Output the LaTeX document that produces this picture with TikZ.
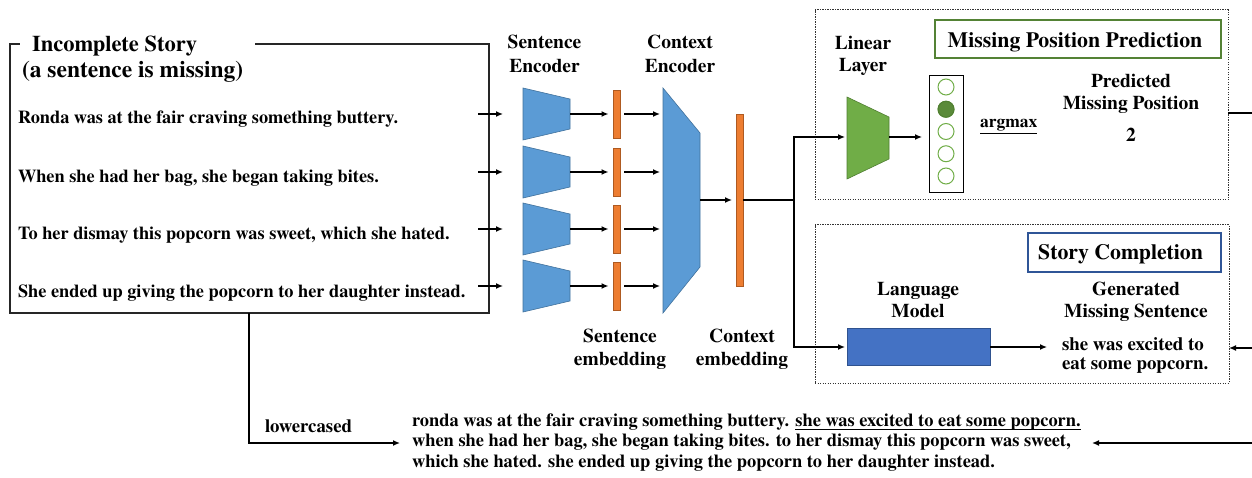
\documentclass[tikz,border=0pt]{standalone}
\usepackage{fontspec}
\setmainfont{texgyretermes}[Extension=.otf, UprightFont=*-regular, BoldFont=*-bold, ItalicFont=*-italic, BoldItalicFont=*-bolditalic]
\usetikzlibrary{arrows.meta,calc}

\definecolor{encblue}{HTML}{5B9BD5}
\definecolor{encblueD}{HTML}{41719C}
\definecolor{embor}{HTML}{ED7D31}
\definecolor{emborD}{HTML}{AE5A21}
\definecolor{lingreen}{HTML}{70AD47}
\definecolor{lingreenD}{HTML}{507E32}
\definecolor{lmblue}{HTML}{4472C4}
\definecolor{lmblueD}{HTML}{2F528F}
\definecolor{tagblue}{HTML}{2F5597}
\definecolor{taggreen}{HTML}{548235}

% underline drawn just below the baseline
\newcommand\undl[1]{\setbox0\hbox{#1}\rlap{\rule[-3.5pt]{\wd0}{1pt}}\box0}

\begin{document}
\begin{tikzpicture}[x=1pt,y=-1pt,
  every node/.style={inner sep=0pt, outer sep=0pt},
  lbl/.style={font=\bfseries\fontsize{19.5}{22}\selectfont, anchor=base},
  ttl/.style={font=\bfseries\fontsize{22.5}{24}\selectfont, anchor=base west},
  tag/.style={font=\bfseries\fontsize{21.8}{24}\selectfont, anchor=base},
  sent/.style={font=\bfseries\fontsize{18.3}{20}\selectfont, anchor=base west},
  small/.style={font=\bfseries\fontsize{17.5}{20}\selectfont, anchor=base west},
  gen/.style={font=\bfseries\fontsize{18.9}{20}\selectfont, anchor=base west},
  low/.style={font=\bfseries\fontsize{18.8}{20}\selectfont, anchor=base west},
  lowtext/.style={font=\bfseries\fontsize{18.4}{20}\selectfont, anchor=base west},
  arr/.style={line width=1.3pt, -{Latex[length=7pt,width=6pt]}},
  link/.style={line width=1.3pt},
  bar/.style={fill=embor, draw=emborD, line width=0.6pt, minimum width=7pt, minimum height=48pt},
  encshape/.style={fill=encblue, draw=encblueD, line width=0.6pt},
  panel/.style={draw=black!80, line width=1pt, dash pattern=on 1.2pt off 1.3pt},
  unit/.style={circle, draw=lingreen, line width=1pt, minimum size=16pt, fill=white},
]
\useasboundingbox (0,0) rectangle (1252,478);

% ---------- input story ----------
\node[draw=black!85, line width=1.2pt, minimum width=479pt, minimum height=269pt, anchor=north west] (story) at (10,44) {};
\node[fill=white, minimum width=235pt, minimum height=14pt, anchor=west] (ttlbg) at (20,44) {};
\node[ttl] (ttl1) at (32,52) {Incomplete Story};
\node[ttl, font=\bfseries\fontsize{23.5}{24}\selectfont] (ttl2) at (22,78) {(a sentence is missing)};

\node[sent] (s1) at (18,124) {Ronda was at the fair craving something buttery.};
\node[sent] (s2) at (18,183) {When she had her bag, she began taking bites.};
\node[sent] (s3) at (18,240) {To her dismay this popcorn was sweet, which she hated.};
\node[sent] (s4) at (18,297) {She ended up giving the popcorn to her daughter instead.};

% ---------- context encoder ----------
\draw[encshape] (663,88) -- (700,133) -- (700,267) -- (663,313) -- cycle;
\coordinate (ctxR) at (700,200);

% ---------- sentence encoders and sentence embeddings ----------
\foreach \i/\y in {1/114,2/172,3/229,4/286} {
  \coordinate (a\i) at (478,\y);
  \coordinate (b\i) at (503,\y);
  \draw[encshape] (523,{\y-26}) -- (570,{\y-15}) -- (570,{\y+15}) -- (523,{\y+26}) -- cycle;
  \coordinate (encR\i) at (570,\y);
  \node[bar] (se\i) at (616.5,\y) {};
  \coordinate (ctxL\i) at (663,\y);
  \draw[arr] (a\i) -- (b\i);
  \draw[arr, shorten >=4.5pt] (encR\i) -- (se\i.west);
  \draw[arr, shorten <=4pt, shorten >=3pt] (se\i.east) -- (ctxL\i);
}

\node[lbl] (senc1) at (544.5,49) {Sentence};
\node[lbl] (senc2) at (544.5,73) {Encoder};
\node[lbl] (cenc1) at (680,49) {Context};
\node[lbl] (cenc2) at (680,73) {Encoder};
\node[lbl] (semb1) at (620,342) {Sentence};
\node[lbl] (semb2) at (620,365) {embedding};
\node[lbl] (cemb1) at (742,342) {Context};
\node[lbl] (cemb2) at (742,365) {embedding};

% ---------- context embedding and split ----------
\node[bar, minimum height=172pt] (ce) at (739.5,200) {};
\draw[arr, shorten >=4pt] (ctxR) -- (ce.west);
\coordinate (split) at (794,200);
\draw[link] (ce.east) -- (split);

% ---------- missing position prediction ----------
\node[panel, minimum width=413pt, minimum height=190pt, anchor=north west] (mpp) at (815,10) {};
\node[draw=taggreen, line width=1.5pt, minimum width=286pt, minimum height=38pt] (mpptag) at (1078,39) {};
\node[tag] (mpptxt) at (1075,48) {Missing Position Prediction};

\node[lbl] (lin1) at (863,50) {Linear};
\node[lbl] (lin2) at (863,72) {Layer};
\draw[fill=lingreen, draw=lingreenD, line width=0.6pt] (847,97) -- (889,117) -- (889,159) -- (847,179) -- cycle;
\coordinate (linL) at (847,137);
\coordinate (linR) at (889,137);
\draw[arr, shorten >=2pt] (split) |- (linL);

\node[draw=black, line width=1pt, minimum width=34pt, minimum height=117pt] (vec) at (946,134.5) {};
\draw[arr, shorten >=7pt] (linR) -- (vec.west |- linR);
\foreach \j/\cy in {1/87,2/109.25,3/131.5,4/153.75,5/176} {
  \node[unit] (u\j) at (946,\cy) {};
}
\node[unit, fill=lingreen!80!black, draw=lingreenD] (u2f) at (946,109.25) {};

\node[small] (argm) at (980,128) {\underline{argmax}};
\node[lbl] (pred1) at (1131,88) {Predicted};
\node[lbl] (pred2) at (1131,110) {Missing Position};
\node[lbl] (pred3) at (1131,142) {2};

\coordinate (mppR) at (1228,113);
\coordinate (outA) at (1252,113);
\draw[link] (mppR) -- (outA);

% ---------- story completion ----------
\node[panel, minimum width=414pt, minimum height=158pt, anchor=north west] (sc) at (815,225) {};
\node[draw=tagblue, line width=1.5pt, minimum width=193pt, minimum height=39pt] (sctag) at (1124.5,252.5) {};
\node[tag] (sctxt) at (1120.5,260) {Story Completion};

\node[lbl] (lm1) at (918,295) {Language};
\node[lbl] (lm2) at (918,317) {Model};
\node[fill=lmblue, draw=lmblueD, line width=0.6pt, minimum width=143pt, minimum height=37pt] (lm) at (918.5,347) {};
\draw[arr, shorten >=2pt] (split) |- (lm.west);

\node[lbl] (gen1) at (1136,295) {Generated};
\node[lbl] (gen2) at (1136,317) {Missing Sentence};
\node[gen] (gs1) at (1062,350) {she was excited to};
\node[gen] (gs2) at (1062,369) {eat some popcorn.};
\coordinate (genL) at (1047,347);
\draw[arr] (lm.east) -- (genL);

\coordinate (inB) at (1252,348);
\coordinate (scR) at (1229,348);
\draw[arr] (inB) -- (scR);

% ---------- lowercased, completed story ----------
\coordinate (storyB) at (249,313);
\coordinate (lowE) at (400,443);
\draw[arr] (storyB) |- (lowE);
\node[low] (lowc) at (265,432) {lowercased};

\node[lowtext] (c1) at (412,426) {ronda was at the fair craving something buttery. \undl{she was excited to eat some popcorn.}};
\node[lowtext] (c2) at (412,446) {when she had her bag, she began taking bites. to her dismay this popcorn was sweet,};
\node[lowtext] (c3) at (412,467) {which she hated. she ended up giving the popcorn to her daughter instead.};

\coordinate (inC) at (1252,443);
\coordinate (cR) at (1092,443);
\draw[arr] (inC) -- (cR);
\end{tikzpicture}
\end{document}
